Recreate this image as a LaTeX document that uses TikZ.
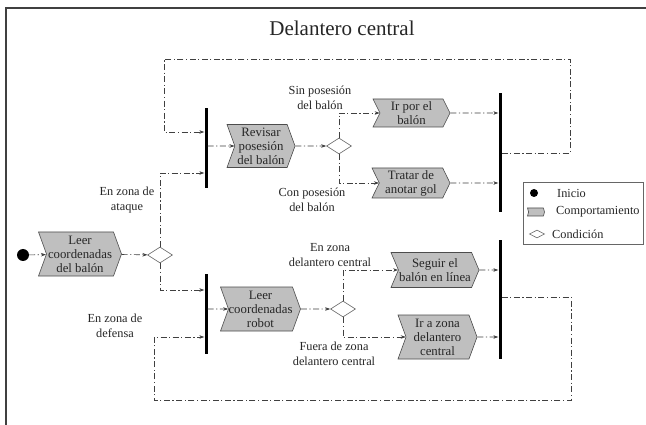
\documentclass[tikz,border=0pt]{standalone}
\usepackage{fontspec}
\setmainfont{Liberation Serif}
\usetikzlibrary{shapes.symbols,shapes.geometric,arrows.meta}
\begin{document}
\begin{tikzpicture}[x=1pt,y=-1pt,
  font=\fontsize{12.3}{14.5}\selectfont, text=black!85,
  beh/.style={signal, signal from=west, signal to=east, draw=black!70, fill=black!25,
    line width=0.6pt, inner sep=0pt, align=center, font=\fontsize{12.8}{14}\selectfont},
  cond/.style={diamond, draw=black!60, fill=white, minimum width=25pt, minimum height=16pt,
    inner sep=0pt, line width=0.6pt},
  barnode/.style={fill=black, inner sep=0pt, minimum width=3pt},
  flow/.style={draw=black!75, line width=0.6pt, dash pattern=on 6pt off 2.5pt on 1.2pt off 2.5pt},
  arr/.style={flow, -{Stealth[length=5pt,width=3.5pt]}},
  lbl/.style={align=center, inner sep=0pt}
]
\useasboundingbox (0,0) rectangle (646,425);
\fill[white] (0,0) rectangle (646,425);
% frame
\draw[black!75, line width=1.5pt] (6,440) -- (6,8) -- (660,8);

% title
\node (title) at (342,28) {\fontsize{21}{24}\selectfont Delantero central};

% start and first behaviour
\node[circle, fill=black, minimum size=12pt, inner sep=0pt] (start) at (23,255) {};
\node[beh, minimum width=83pt, minimum height=44pt, signal pointer angle=140] (b1) at (80,254) {Leer\\coordenadas\\del balón};
\node[cond] (d1) at (160,255) {};

% forks
\node[barnode, minimum height=80pt] (bar1) at (206,148) {};
\node[barnode, minimum height=80pt] (bar2) at (206,314) {};

% upper branch
\node[beh, minimum width=68pt, minimum height=43pt, signal pointer angle=140] (b2) at (261,146) {Revisar\\posesión\\del balón};
\node[cond] (d2) at (339,146) {};
\node[beh, minimum width=77pt, minimum height=28pt, signal pointer angle=127] (b3) at (411.5,113) {Ir por el\\balón};
\node[beh, minimum width=78pt, minimum height=30pt, signal pointer angle=128] (b4) at (411,183) {Tratar de\\anotar gol};
\node[barnode, minimum height=119pt] (bar3) at (500,152.5) {};

% lower branch
\node[beh, minimum width=75pt, minimum height=44pt, signal pointer angle=140] (b5) at (260.5,309) {Leer\\coordenadas\\robot};
\node[cond] (d3) at (343,309) {};
\node[beh, minimum width=88pt, minimum height=35pt, signal pointer angle=134] (b6) at (435,270) {Seguir el\\balón en línea};
\node[beh, minimum width=79pt, minimum height=44pt, signal pointer angle=140] (b7) at (437.5,337) {Ir a zona\\delantero\\central};
\node[barnode, minimum height=119pt] (bar4) at (500,299.5) {};

% labels
\node[lbl] (lsin) at (320,98) {Sin posesión\\del balón};
\node[lbl] (lcon) at (312,200) {Con posesión\\del balón};
\node[lbl] (latq) at (127,200) {En zona de\\ataque};
\node[lbl] (ldef) at (115,326) {En zona de\\defensa};
\node[lbl] (lenz) at (330,255) {En zona\\delantero central};
\node[lbl] (lfue) at (334,354) {Fuera de zona\\delantero central};

% connectors
\draw[arr] (start) -- (b1);
\draw[arr] (b1) -- (d1);
\draw[arr] (d1.north) |- (bar1.west |- 0,173);
\draw[arr] (d1.south) |- (bar2.west |- 0,290);
\draw[arr] (bar1.east |- b2) -- (b2);
\draw[arr] (b2) -- (d2);
\draw[arr] (d2.north) |- (b3);
\draw[arr] (d2.south) |- (b4);
\draw[arr] (b3) -- (bar3.west |- b3);
\draw[arr] (b4) -- (bar3.west |- b4);
\draw[arr] (bar3.east |- 0,153) -- (570,153) -- (570,59) -- (164,59) -- (164,132) -- (bar1.west |- 0,132);
\draw[arr] (bar2.east |- b5) -- (b5);
\draw[arr] (b5) -- (d3);
\draw[arr] (d3.north) |- (b6);
\draw[arr] (d3.south) |- (b7);
\draw[arr] (b6) -- (bar4.west |- b6);
\draw[arr] (b7) -- (bar4.west |- b7);
\draw[arr] (bar4.east |- 0,297) -- (571,297) -- (571,400) -- (154,400) -- (154,337) -- (bar2.west |- 0,337);

% legend
\node[draw=black!60, line width=0.8pt, minimum width=120pt, minimum height=62pt, inner sep=0pt] (legend) at (583,213) {};
\node[circle, fill=black, minimum size=8pt, inner sep=0pt] (lgdot) at (534,193) {};
\node[anchor=west, inner sep=0pt] (lgini) at (557,193) {Inicio};
\node[beh, minimum width=17pt, minimum height=8pt, signal pointer angle=150] (lgbeh) at (536,212) {};
\node[anchor=west, inner sep=0pt] (lgcomp) at (556,212) {Comportamiento};
\node[cond, minimum width=15pt, minimum height=8pt] (lgcond) at (537,234) {};
\node[anchor=west, inner sep=0pt] (lgcondt) at (552,234) {Condición};
\end{tikzpicture}
\end{document}
